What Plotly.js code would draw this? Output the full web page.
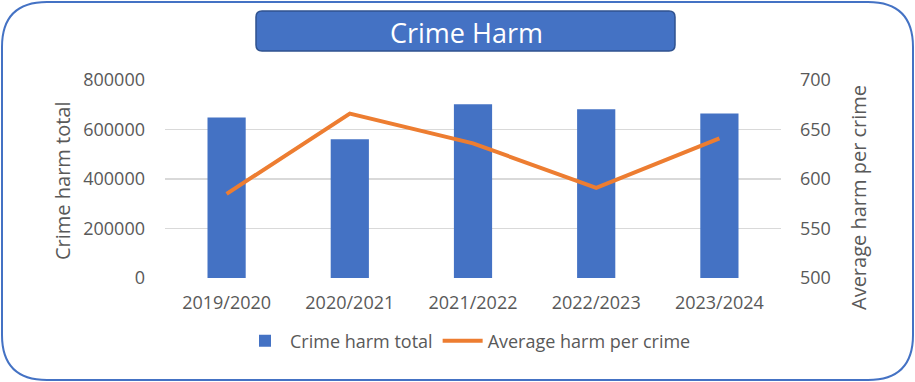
<!DOCTYPE html>
<html>
<head>
<meta charset="utf-8">
<script src="https://cdn.plot.ly/plotly-3.0.1.min.js"></script>
<style>
html,body{margin:0;padding:0;background:#fff;}
#chart{width:915px;height:382px;}
</style>
</head>
<body>
<div id="chart"></div>
<script>
const years = ["2019/2020", "2020/2021", "2021/2022", "2022/2023", "2023/2024"];
const harmTotal = [648000, 561000, 702000, 682000, 665000];
const avgHarm = [585, 666, 636, 591, 641];
const leftTicks = [0, 200000, 400000, 600000, 800000];
const rightTicks = [500, 550, 600, 650, 700];

const W = 915, H = 382;
const L = 165, R = 781, T = 80, B = 278;
function px(x){ return (x - L) / (R - L); }
function py(y){ return (B - y) / (B - T); }
function roundRect(x0, y0, x1, y1, r){
  const rx = r / (R - L), ry = r / (B - T);
  const a = px(x0), b = px(x1), c = py(y0), d = py(y1);
  return `M ${a+rx},${c} L ${b-rx},${c} Q ${b},${c} ${b},${c-ry} L ${b},${d+ry} Q ${b},${d} ${b-rx},${d} L ${a+rx},${d} Q ${a},${d} ${a},${d+ry} L ${a},${c-ry} Q ${a},${c} ${a+rx},${c} Z`;
}

const font = "'Open Sans', 'Noto Sans', sans-serif";
const grey = "#595959";

const traces = [
  {
    type: "bar", x: years, y: harmTotal, name: "Crime harm total",
    marker: {color: "#4472C4"}, yaxis: "y"
  },
  {
    type: "scatter", mode: "lines", x: years, y: avgHarm, name: "Average harm per crime",
    line: {color: "#ED7D31", width: 4}, yaxis: "y2"
  }
];

const layout = {
  width: W, height: H,
  margin: {l: L, r: W - R, t: T, b: H - B},
  paper_bgcolor: "rgba(0,0,0,0)", plot_bgcolor: "rgba(0,0,0,0)",
  bargap: 0.69,
  font: {family: font, color: grey, size: 18},
  showlegend: true,
  legend: {orientation: "h", x: px(468), xanchor: "center", y: py(341), yanchor: "middle",
           font: {size: 18, color: grey}, itemwidth: 40, tracegroupgap: 0},
  xaxis: {
    tickfont: {size: 18, color: grey}, ticks: "", showgrid: false, zeroline: false, showline: false,
    ticklabelstandoff: 12
  },
  yaxis: {
    range: [0, 800000], tickvals: leftTicks, ticktext: leftTicks.map(String),
    showgrid: true, gridcolor: "#D9D9D9", gridwidth: 1.5, zeroline: false,
    tickfont: {size: 18, color: grey}, ticklabelstandoff: 19
  },
  yaxis2: {
    range: [500, 700], tickvals: rightTicks, overlaying: "y", side: "right",
    showgrid: false, zeroline: false, tickfont: {size: 18, color: grey}, ticklabelstandoff: 18
  },
  shapes: [
    {type: "path", xref: "paper", yref: "paper", path: roundRect(2, 2, 913, 380, 45),
     line: {color: "#4472C4", width: 2}, fillcolor: "rgba(0,0,0,0)", layer: "below"},
    {type: "path", xref: "paper", yref: "paper", path: roundRect(256, 11, 675, 51, 6),
     line: {color: "#2F528F", width: 1.5}, fillcolor: "#4472C4", layer: "below"}
  ],
  annotations: [
    {xref: "paper", yref: "paper", x: px(466), y: py(32), xanchor: "center", yanchor: "middle",
     text: "Crime Harm", showarrow: false, font: {size: 27, color: "#ffffff", family: font}},
    {xref: "paper", yref: "paper", x: px(62), y: py(181), xanchor: "center", yanchor: "middle",
     text: "Crime harm total", textangle: -90, showarrow: false, font: {size: 20, color: grey, family: font}},
    {xref: "paper", yref: "paper", x: px(858), y: py(198), xanchor: "center", yanchor: "middle",
     text: "Average harm per crime", textangle: -90, showarrow: false, font: {size: 20, color: grey, family: font}}
  ]
};

Plotly.newPlot("chart", traces, layout, {displayModeBar: false, staticPlot: true});
</script>
</body>
</html>
